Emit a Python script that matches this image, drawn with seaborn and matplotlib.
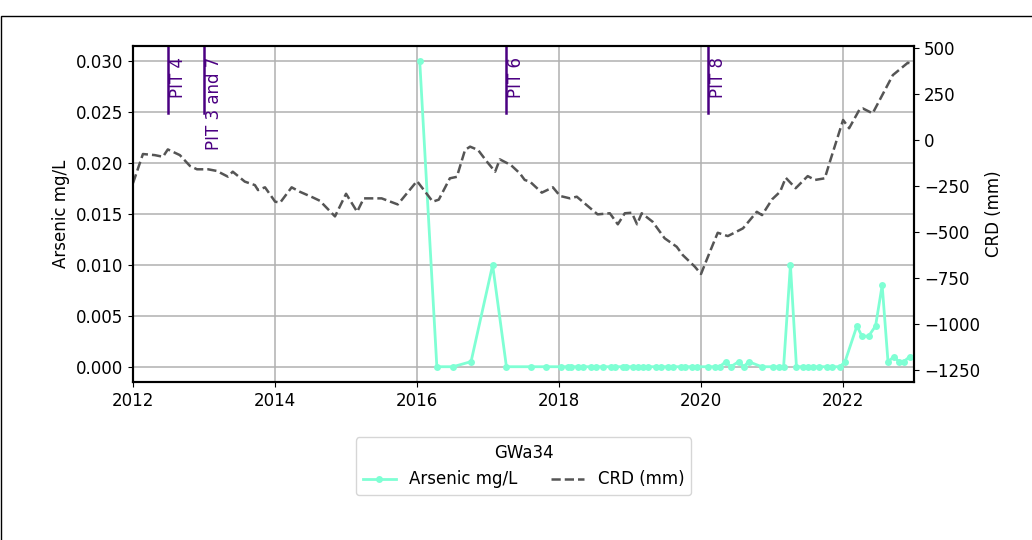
import pandas as pd
import seaborn as sns
import matplotlib.pyplot as plt
import matplotlib.dates as mdates
from matplotlib.patches import Rectangle

# arsenic samples (mg/L)
arsenic_dates = [
    '2016-01-15', '2016-04-12', '2016-07-04', '2016-10-05', '2017-01-24', '2017-04-05',
    '2017-08-07', '2017-10-24', '2018-01-09', '2018-02-17', '2018-03-01', '2018-04-08',
    '2018-05-03', '2018-06-16', '2018-07-11', '2018-08-15', '2018-09-27', '2018-10-14',
    '2018-11-26', '2018-12-10', '2019-01-17', '2019-02-12', '2019-03-08', '2019-04-03',
    '2019-05-16', '2019-06-11', '2019-07-15', '2019-08-10', '2019-09-22', '2019-10-09',
    '2019-11-18', '2019-12-13', '2020-02-07', '2020-03-11', '2020-04-06', '2020-05-07',
    '2020-06-02', '2020-07-13', '2020-08-08', '2020-09-02', '2020-11-08', '2021-01-07',
    '2021-02-07', '2021-03-01', '2021-04-05', '2021-05-06', '2021-06-09', '2021-07-04',
    '2021-07-30', '2021-08-30', '2021-10-08', '2021-11-03', '2021-12-16', '2022-01-11',
    '2022-03-13', '2022-04-08', '2022-05-12', '2022-06-17', '2022-07-21', '2022-08-20',
    '2022-09-20', '2022-10-15', '2022-11-09', '2022-12-10',
]
arsenic = [
    0.030, 0.0, 0.0, 0.0005, 0.010, 0.0,
    0.0, 0.0, 0.0, 0.0, 0.0, 0.0,
    0.0, 0.0, 0.0, 0.0, 0.0, 0.0,
    0.0, 0.0, 0.0, 0.0, 0.0, 0.0,
    0.0, 0.0, 0.0, 0.0, 0.0, 0.0,
    0.0, 0.0, 0.0, 0.0, 0.0, 0.0005,
    0.0, 0.0005, 0.0, 0.0005, 0.0, 0.0,
    0.0, 0.0, 0.010, 0.0, 0.0, 0.0,
    0.0, 0.0, 0.0, 0.0, 0.0, 0.0005,
    0.004, 0.003, 0.003, 0.004, 0.008, 0.0005,
    0.001, 0.0005, 0.0005, 0.001,
]

# cumulative rainfall deviation (mm)
crd_dates = [
    '2012-01-01', '2012-02-21', '2012-04-22', '2012-06-03', '2012-06-28', '2012-08-29',
    '2012-10-20', '2012-11-25', '2013-01-21', '2013-03-07', '2013-05-03', '2013-05-28',
    '2013-07-29', '2013-09-19', '2013-10-05', '2013-11-10', '2014-01-01', '2014-01-27',
    '2014-03-27', '2014-05-08', '2014-07-14', '2014-08-19', '2014-11-05', '2015-01-01',
    '2015-02-27', '2015-04-02', '2015-07-03', '2015-09-24', '2016-01-01', '2016-03-22',
    '2016-04-22', '2016-06-18', '2016-07-24', '2016-09-04', '2016-09-30', '2016-11-10',
    '2016-12-26', '2017-02-06', '2017-03-02', '2017-04-28', '2017-06-13', '2017-07-08',
    '2017-08-04', '2017-10-04', '2017-11-30', '2018-01-06', '2018-02-26', '2018-04-02',
    '2018-07-18', '2018-09-19', '2018-10-30', '2018-12-05', '2019-01-10', '2019-02-06',
    '2019-03-02', '2019-04-27', '2019-06-28', '2019-08-29', '2019-09-29', '2019-11-30',
    '2020-01-01', '2020-02-16', '2020-03-27', '2020-05-18', '2020-08-04', '2020-10-14',
    '2020-11-10', '2021-01-01', '2021-02-11', '2021-03-12', '2021-05-02', '2021-07-03',
    '2021-08-09', '2021-09-29', '2021-10-25', '2022-01-01', '2022-02-01', '2022-03-27',
    '2022-04-12', '2022-06-02', '2022-09-14', '2022-11-30', '2022-12-25',
]
crd = [
    -234, -76, -82, -91, -51, -82,
    -141, -159, -159, -168, -199, -172,
    -226, -245, -272, -257, -335, -340,
    -257, -281, -312, -330, -415, -292,
    -390, -317, -317, -350, -223, -335,
    -324, -208, -200, -54, -36, -54,
    -118, -172, -105, -136, -181, -217,
    -226, -286, -257, -304, -317, -308,
    -404, -398, -458, -398, -395, -458,
    -398, -444, -534, -580, -625, -688,
    -728, -607, -504, -522, -480, -390,
    -408, -322, -281, -205, -262, -196,
    -217, -208, -118, 109, 64, 167,
    172, 145, 353, 420, 413,
]

pit_dates = ['2012-06-28', '2013-01-01', '2017-04-01', '2020-02-06']
pit_labels = ['PIT 4', 'PIT 3 and 7', 'PIT 6', 'PIT 8']

df_as = pd.DataFrame({'date': pd.to_datetime(arsenic_dates), 'arsenic': arsenic})
df_crd = pd.DataFrame({'date': pd.to_datetime(crd_dates), 'crd': crd})

plt.rcParams['font.size'] = 12

fig = plt.figure(figsize=(10.32, 5.40), dpi=100)
ax = fig.add_axes([0.1289, 0.2926, 0.7568, 0.6222])
ax2 = ax.twinx()

sns.lineplot(data=df_as, x='date', y='arsenic', ax=ax, color='aquamarine',
             marker='o', markersize=5, markeredgewidth=0, linewidth=2,
             label='Arsenic mg/L', legend=False, zorder=3)
sns.lineplot(data=df_crd, x='date', y='crd', ax=ax2, color='#555555',
             linestyle='--', linewidth=1.8, label='CRD (mm)', legend=False)

for d, lab in zip(pit_dates, pit_labels):
    ax.axvline(pd.Timestamp(d), ymin=0.8, ymax=1, color='indigo', linewidth=1.8)
    ax.text(pd.Timestamp(d) + pd.Timedelta(days=6), 0.0304, lab, rotation=90,
            ha='left', va='top', color='indigo', fontsize=12)

ax.set_xlim(pd.Timestamp('2012-01-01'), pd.Timestamp('2023-01-01'))
ax.set_ylim(-0.0015, 0.0315)
ax2.set_ylim(-1315, 511)
ax.xaxis.set_major_locator(mdates.YearLocator(2))
ax.xaxis.set_major_formatter(mdates.DateFormatter('%Y'))
ax.set_yticks([0.0, 0.005, 0.010, 0.015, 0.020, 0.025, 0.030])
ax.yaxis.set_major_formatter(plt.FormatStrFormatter('%.3f'))
ax2.set_yticks([-1250, -1000, -750, -500, -250, 0, 250, 500])

ax.grid(True, color='#b0b0b0', linewidth=1.1)
ax.set_axisbelow(True)
ax.set_xlabel('')
ax.set_ylabel('Arsenic mg/L')
ax2.set_ylabel('CRD (mm)')
for a in (ax, ax2):
    for s in a.spines.values():
        s.set_linewidth(1.5)

h1, l1 = ax.get_legend_handles_labels()
h2, l2 = ax2.get_legend_handles_labels()
ax.legend(h1 + h2, l1 + l2, title='GWa34', ncol=2, loc='upper center',
          bbox_to_anchor=(0.5, -0.14), fontsize=12, title_fontsize=12)

fig.patches.append(Rectangle((0.0008, -0.05), 1.2, 1.0204, transform=fig.transFigure,
                             fill=False, edgecolor='black', linewidth=1))

fig.savefig('out.png', dpi=100)
